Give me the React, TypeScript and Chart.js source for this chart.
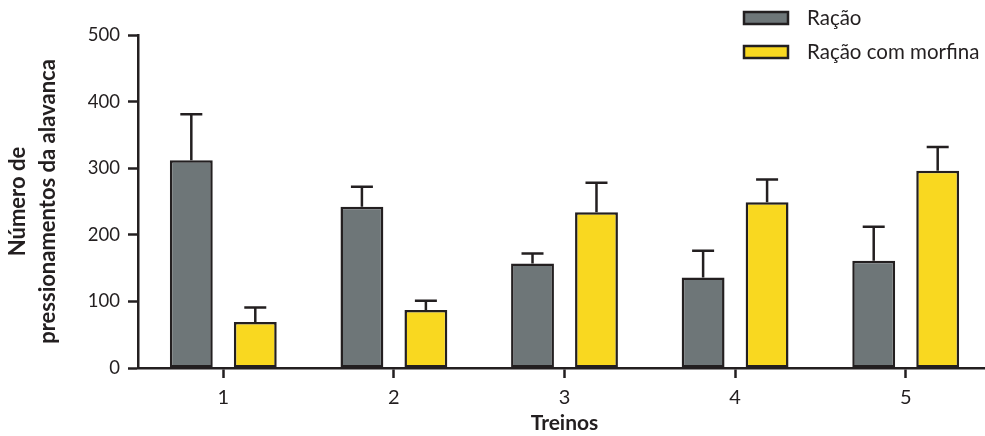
import React, { useEffect, useRef } from "react";
import { Chart, registerables } from "chart.js";

Chart.register(...registerables);

const categories = ["1", "2", "3", "4", "5"];
const seriesNames = ["Ração", "Ração com morfina"];
const racao = [312, 242, 157, 136, 161];
const racaoErr = [381, 272, 172, 176, 212];
const morfina = [69, 87, 234, 249, 296];
const morfinaErr = [91, 101, 278, 283, 332];
const yTicks = [0, 100, 200, 300, 400, 500];

const INK = "#231f20";
const GRAY = "#6e7678";
const YELLOW = "#f9d820";
const FONT = "Lato, 'Open Sans', sans-serif";

const errorBarPlugin = {
  id: "errorBars",
  afterDatasetsDraw(chart: any) {
    const ctx = chart.ctx;
    const yScale = chart.scales.y;
    const tops = [racaoErr, morfinaErr];
    ctx.save();
    ctx.strokeStyle = INK;
    ctx.lineWidth = 2.5;
    chart.data.datasets.forEach((ds: any, di: number) => {
      const meta = chart.getDatasetMeta(di);
      meta.data.forEach((bar: any, i: number) => {
        const x = bar.x;
        const yv = yScale.getPixelForValue(ds.data[i]);
        const ye = yScale.getPixelForValue(tops[di][i]);
        ctx.beginPath();
        ctx.moveTo(x, yv);
        ctx.lineTo(x, ye);
        ctx.moveTo(x - 11, ye);
        ctx.lineTo(x + 11, ye);
        ctx.stroke();
      });
    });
    ctx.restore();
  },
};

const legendPlugin = {
  id: "customLegend",
  afterDraw(chart: any) {
    const ctx = chart.ctx;
    const colors = [GRAY, YELLOW];
    const rows = [18, 52];
    ctx.save();
    seriesNames.forEach((name, i) => {
      const y = rows[i];
      ctx.fillStyle = colors[i];
      ctx.fillRect(744, y - 6, 44, 12);
      ctx.strokeStyle = INK;
      ctx.lineWidth = 2.5;
      ctx.strokeRect(744, y - 6, 44, 12);
      ctx.fillStyle = INK;
      ctx.font = `20.5px ${FONT}`;
      ctx.textBaseline = "middle";
      ctx.textAlign = "left";
      ctx.fillText(name, 807, y);
    });
    ctx.restore();
  },
};

export default function App() {
  const ref = useRef<HTMLCanvasElement>(null);
  useEffect(() => {
    if (!ref.current) return;
    const chart = new Chart(ref.current, {
      type: "bar",
      data: {
        labels: categories,
        datasets: [
          {
            label: seriesNames[0],
            data: racao,
            backgroundColor: GRAY,
            borderColor: INK,
            borderWidth: 2.5,
            borderSkipped: false,
            barPercentage: 0.67,
            categoryPercentage: 0.75,
          },
          {
            label: seriesNames[1],
            data: morfina,
            backgroundColor: YELLOW,
            borderColor: INK,
            borderWidth: 2.5,
            borderSkipped: false,
            barPercentage: 0.67,
            categoryPercentage: 0.75,
          },
        ],
      },
      options: {
        responsive: false,
        animation: false,
        devicePixelRatio: 1,
        layout: { padding: { top: 35, right: 4, left: 0, bottom: 0 } },
        plugins: { legend: { display: false }, tooltip: { enabled: false } },
        scales: {
          x: {
            grid: {
              display: true,
              drawOnChartArea: false,
              drawTicks: true,
              offset: false,
              tickLength: 10,
              tickWidth: 2.5,
              color: INK,
            },
            border: { display: true, color: INK, width: 2.5 },
            ticks: { color: INK, font: { family: FONT, size: 20 }, padding: 8 },
            title: {
              display: true,
              text: "Treinos",
              color: INK,
              font: { family: FONT, size: 21, weight: "bold" },
              padding: { top: 0, bottom: 0 },
            },
            afterFit: (s: any) => {
              s.height = 68;
            },
          },
          y: {
            min: 0,
            max: 500,
            afterBuildTicks: (s: any) => {
              s.ticks = yTicks.map((v) => ({ value: v }));
            },
            grid: {
              display: true,
              drawOnChartArea: false,
              drawTicks: true,
              tickLength: 10,
              tickWidth: 2.5,
              color: INK,
            },
            border: { display: true, color: INK, width: 2.5 },
            ticks: { color: INK, font: { family: FONT, size: 18.5 }, padding: 8 },
            title: {
              display: true,
              text: ["Número de", "pressionamentos da alavanca"],
              color: INK,
              font: { family: FONT, size: 22, weight: "bold", lineHeight: 1.36 },
              padding: { top: 3, bottom: 0 },
            },
            afterFit: (s: any) => {
              s.width = 138;
            },
          },
        },
      },
      plugins: [errorBarPlugin, legendPlugin],
    });
    return () => chart.destroy();
  }, []);
  return (
    <div style={{ position: "fixed", left: 0, top: 0, width: 985, height: 436, overflow: "hidden", background: "#fff" }}>
      <canvas ref={ref} width={995} height={436} style={{ display: "block" }} />
    </div>
  );
}
